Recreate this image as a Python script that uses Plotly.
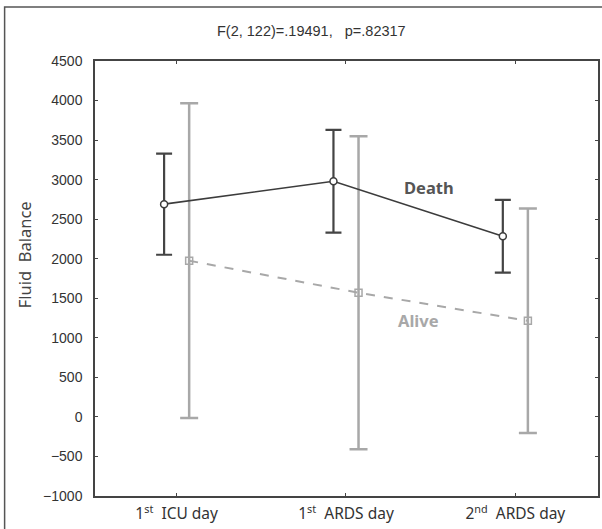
import plotly.graph_objects as go

categories = ["1<sup>st</sup>  ICU day", "1<sup>st</sup>  ARDS day", "2<sup>nd</sup>  ARDS day"]
death_mean = [2690, 2980, 2285]
death_err = [640, 650, 460]
alive_mean = [1975, 1570, 1215]
alive_err = [1990, 1980, 1420]
y_ticks = [-1000, -500, 0, 500, 1000, 1500, 2000, 2500, 3000, 3500, 4000, 4500]
title_text = "F(2, 122)=.19491,   p=.82317"

offset = 0.074
idx = list(range(len(categories)))
x_death = [i - offset for i in idx]
x_alive = [i + offset for i in idx]

fig = go.Figure()
fig.add_trace(go.Scatter(
    x=x_alive, y=alive_mean, mode="lines+markers",
    line=dict(color="#a8a8a8", width=2, dash="dash"),
    marker=dict(symbol="square-open", size=7, color="#a8a8a8", line=dict(width=1.5)),
    error_y=dict(type="data", array=alive_err, color="#a8a8a8", thickness=2.5, width=9),
    showlegend=False,
))
fig.add_trace(go.Scatter(
    x=x_death, y=death_mean, mode="lines+markers",
    line=dict(color="#3c3c3c", width=1.6),
    marker=dict(symbol="circle", size=7, color="white", line=dict(color="#3c3c3c", width=1.5)),
    error_y=dict(type="data", array=death_err, color="#444444", thickness=2.2, width=8),
    showlegend=False,
))

# series labels
fig.add_annotation(x=1.49, y=2900, text="<b>Death</b>", showarrow=False,
                   font=dict(family="Noto Sans", size=16.5, color="#555555"))
fig.add_annotation(x=1.43, y=1220, text="<b>Alive</b>", showarrow=False,
                   font=dict(family="Noto Sans", size=16.5, color="#a8a8a8"))

fig.add_annotation(
    xref="paper", yref="paper", x=-0.1406, y=0.554, xanchor="center", yanchor="middle",
    text="Fluid  Balance", textangle=-90,
    showarrow=False, font=dict(family="Noto Sans", size=16.5, color="#444444"),
)
fig.add_annotation(
    xref="paper", yref="paper", x=0.43, y=1.0695, xanchor="center", yanchor="middle",
    text=title_text, showarrow=False,
    font=dict(family="Liberation Sans", size=14.5, color="#333333"),
)

fig.add_shape(type="rect", xref="paper", yref="paper", x0=-0.1797, x1=1.01, y0=-0.08, y1=1.124,
              line=dict(color="#555555", width=1.5), layer="below")

fig.update_xaxes(
    range=[-0.482, 2.488], tickvals=idx, ticktext=categories,
    showgrid=False, zeroline=False, showline=True, linecolor="#444444", linewidth=1.5,
    mirror="allticks", ticks="inside", ticklen=3, tickcolor="#444444",
    tickfont=dict(family="Noto Sans", size=15.5, color="#333333"), ticklabelstandoff=3,
)
fig.update_yaxes(
    range=[-1000, 4500], tickvals=y_ticks,
    showgrid=False, zeroline=False, showline=True, linecolor="#444444", linewidth=1.5,
    mirror="allticks", ticks="inside", ticklen=3, tickcolor="#444444",
    tickfont=dict(family="Liberation Sans", size=14, color="#333333"), ticklabelstandoff=8,
)
fig.update_layout(
    width=602, height=529,
    margin=dict(l=95, r=2, t=61, b=33),
    plot_bgcolor="white", paper_bgcolor="white",
)
fig.write_html(
    "out.html",
    config={"displayModeBar": False},
    post_script="document.body.style.margin='0';document.body.style.overflow='hidden';",
)
